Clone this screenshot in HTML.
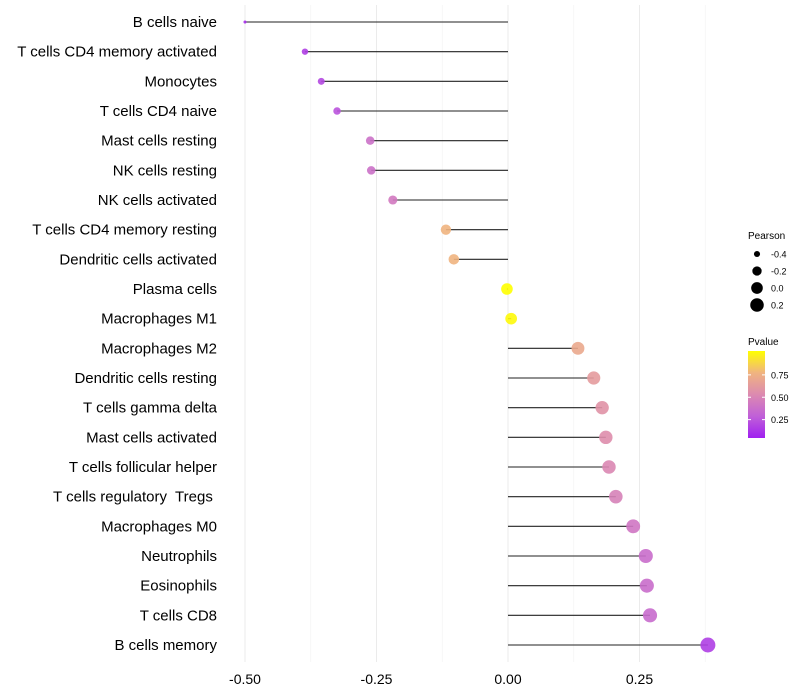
<!DOCTYPE html>
<html><head><meta charset="utf-8"><style>
body{margin:0;background:#fff;}
svg{display:block;font-family:"Liberation Sans",Arial,sans-serif;}
text{white-space:pre;}
</style></head><body>
<svg id="chart" width="800" height="700">
<defs><linearGradient id="pg" x1="0" y1="1" x2="0" y2="0">
<stop offset="0" stop-color="#A020F0"/><stop offset="0.25" stop-color="#C060D8"/><stop offset="0.5" stop-color="#DC8AB0"/><stop offset="0.75" stop-color="#F0B480"/><stop offset="1" stop-color="#FFFF00"/></linearGradient></defs>
<g id="grid"></g><g id="marks"></g><g id="ylabels"></g><g id="xlabels"></g>
<g>
<text x="748" y="239" font-size="10">Pearson</text>
<g id="sizeleg"></g>
<text x="748" y="345" font-size="10">Pvalue</text>
<rect x="748" y="351" width="17" height="87" fill="url(#pg)"/>
<g id="colleg"></g>
</g>
</svg>
<script>
const categories=["B cells naive","T cells CD4 memory activated","Monocytes","T cells CD4 naive","Mast cells resting","NK cells resting","NK cells activated","T cells CD4 memory resting","Dendritic cells activated","Plasma cells","Macrophages M1","Macrophages M2","Dendritic cells resting","T cells gamma delta","Mast cells activated","T cells follicular helper","T cells regulatory  Tregs ","Macrophages M0","Neutrophils","Eosinophils","T cells CD8","B cells memory"];
const pearson=[-0.50,-0.386,-0.355,-0.325,-0.262,-0.26,-0.219,-0.118,-0.103,-0.002,0.006,0.133,0.163,0.179,0.186,0.192,0.205,0.238,0.262,0.264,0.27,0.38];
const pvalue=[0.05,0.12,0.16,0.2,0.35,0.35,0.4,0.75,0.75,1.0,0.98,0.68,0.6,0.55,0.52,0.48,0.45,0.38,0.33,0.33,0.32,0.12];
const xTicks=[-0.5,-0.25,0,0.25];
const xTickLabels=["-0.50","-0.25","0.00","0.25"];
const minorTicks=[-0.375,-0.125,0.125,0.375];
const sizeBreaks=[-0.4,-0.2,0.0,0.2];
const colBreaks=[0.25,0.5,0.75];
const NS="http://www.w3.org/2000/svg";
const xs=v=>508+v*526;
const ys=i=>22+i*(623/21);
const rs=v=>Math.sqrt(Math.max(0,(v+0.52)/0.9))*7+0.5;
const stops=[[0,[160,32,240]],[0.25,[192,96,216]],[0.5,[220,138,176]],[0.75,[240,180,128]],[1,[255,255,0]]];
function col(p){for(let k=1;k<stops.length;k++){if(p<=stops[k][0]){const a=stops[k-1],b=stops[k];const t=(p-a[0])/(b[0]-a[0]);return "rgb("+a[1].map((c,j)=>Math.round(c+(b[1][j]-c)*t)).join(",")+")";}}return "rgb(255,255,0)";}
function mk(tag,attrs,parent){const e=document.createElementNS(NS,tag);for(const k in attrs)e.setAttribute(k,attrs[k]);document.getElementById(parent).appendChild(e);return e;}
xTicks.forEach(v=>{const l=mk("line",{x1:xs(v),x2:xs(v),y1:5,y2:662,stroke:"#ebebeb","stroke-width":1},"grid");

});
minorTicks.forEach(v=>{const l=mk("line",{x1:xs(v),x2:xs(v),y1:5,y2:662,stroke:"#f3f3f3","stroke-width":0.6},"grid");

});
xTicks.forEach((v,i)=>{const t=mk("text",{x:xs(v),y:684,"font-size":14,"text-anchor":"middle",fill:"#000"},"xlabels");t.textContent=xTickLabels[i];

});
categories.forEach((c,i)=>{const y=ys(i);
const t=mk("text",{x:217,y:y+5,"font-size":15,"text-anchor":"end",fill:"#000"},"ylabels");t.textContent=c;


const l=mk("line",{x1:xs(0),x2:xs(pearson[i]),y1:y,y2:y,stroke:"#222","stroke-width":1.1},"marks");


const d=mk("circle",{cx:xs(pearson[i]),cy:y,r:rs(pearson[i]),fill:col(pvalue[i]),"fill-opacity":0.9},"marks");

});
sizeBreaks.forEach((v,i)=>{const y=254+i*17;
const d=mk("circle",{cx:757,cy:y,r:rs(v),fill:"#000"},"sizeleg");


const t=mk("text",{x:771,y:y+3.5,"font-size":9},"sizeleg");t.textContent=v.toFixed(1);

});
colBreaks.forEach(p=>{const y=442-p*89.5;
const a=mk("line",{x1:748,x2:751,y1:y,y2:y,stroke:"#fff"},"colleg");


const b=mk("line",{x1:762,x2:765,y1:y,y2:y,stroke:"#fff"},"colleg");


const t=mk("text",{x:771,y:y+3.5,"font-size":9},"colleg");t.textContent=p.toFixed(2);

});
</script>
</body></html>
